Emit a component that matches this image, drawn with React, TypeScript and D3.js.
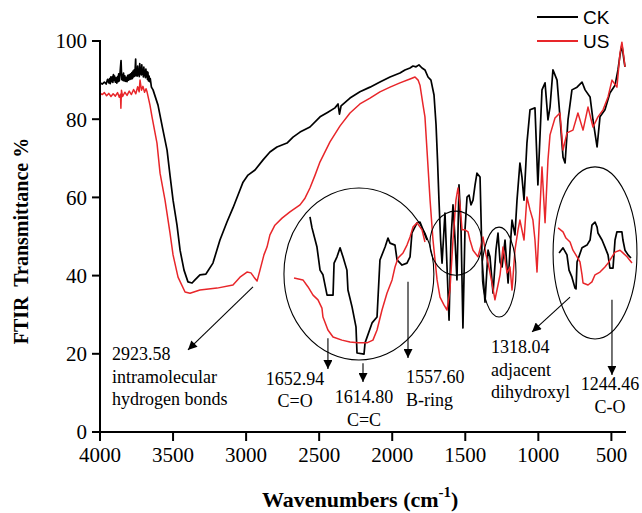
import React from 'react';
import * as d3 from 'd3';

const xTicks = [4000, 3500, 3000, 2500, 2000, 1500, 1000, 500];
const yTicks = [0, 20, 40, 60, 80, 100];
const seriesNames = ['CK', 'US'];
const seriesColors = ['#000000', '#e8262a'];

// [wavenumber, transmittance]
const ckSpectrum: [number, number][] = [
  [4000, 89.3], [3985, 89.0], [3970, 89.5], [3958, 89.0], [3948, 90.2], [3940, 89.3], [3934, 90.4], [3930, 89.1],
  [3926, 90.8], [3922, 89.6], [3916, 90.9], [3912, 89.4], [3908, 91.4], [3905, 89.9], [3900, 91.0], [3895, 89.5],
  [3890, 90.6], [3885, 89.2], [3880, 90.9], [3876, 89.6], [3872, 91.6], [3868, 89.8], [3864, 91.2], [3860, 93.2],
  [3856, 95.0], [3851, 90.1], [3847, 91.3], [3843, 89.9], [3839, 91.8], [3835, 89.8], [3830, 91.1], [3825, 89.7],
  [3820, 90.7], [3815, 89.6], [3810, 91.2], [3805, 90.0], [3800, 91.4], [3795, 90.2], [3790, 91.6], [3786, 90.3],
  [3782, 91.9], [3778, 90.4], [3774, 92.3], [3770, 90.8], [3766, 92.6], [3762, 91.0], [3759, 93.1], [3756, 95.4],
  [3753, 91.2], [3750, 92.6], [3746, 91.0], [3742, 93.6], [3738, 91.3], [3735, 92.4], [3731, 90.9], [3728, 94.2],
  [3724, 91.6], [3721, 93.0], [3717, 91.3], [3714, 93.9], [3710, 91.5], [3707, 92.6], [3703, 90.8], [3700, 93.3],
  [3696, 91.2], [3693, 92.4], [3689, 90.6], [3686, 92.8], [3682, 90.9], [3679, 92.2], [3675, 90.2], [3672, 92.0],
  [3668, 89.8], [3664, 91.0], [3660, 89.6], [3656, 90.4], [3648, 88.2], [3637, 87.5], [3603, 83.6], [3569, 77.2],
  [3541, 72.1], [3521, 65.7], [3500, 59.3], [3473, 52.9], [3452, 46.5], [3425, 41.4], [3398, 38.4], [3370, 38.1],
  [3350, 38.9], [3316, 40.2], [3275, 40.4], [3227, 43.2], [3179, 49.1], [3131, 53.7], [3090, 57.3], [3042, 61.9],
  [3021, 63.9], [2987, 65.7], [2939, 67.0], [2884, 69.6], [2837, 71.6], [2789, 72.9], [2720, 73.9], [2679, 75.4],
  [2631, 76.7], [2563, 78.0], [2494, 80.6], [2440, 81.8], [2392, 82.9], [2371, 83.9], [2361, 81.3], [2350, 83.4],
  [2289, 85.4], [2221, 87.0], [2152, 88.2], [2084, 89.5], [2015, 90.8], [1947, 91.8], [1913, 92.6], [1878, 93.1],
  [1858, 93.6], [1837, 93.4], [1817, 93.9], [1796, 93.1], [1776, 92.6], [1755, 90.8], [1735, 90.0], [1714, 86.2],
  [1700, 78.5], [1690, 69.6], [1680, 59.3], [1669, 49.1], [1659, 43.2], [1639, 56.0], [1611, 28.6], [1598, 49.1],
  [1584, 58.1], [1570, 49.1], [1557, 38.9], [1543, 63.2], [1529, 51.7], [1516, 26.6], [1502, 51.7], [1488, 60.1],
  [1474, 60.6], [1461, 58.1], [1447, 59.3], [1433, 63.2], [1420, 66.2], [1399, 65.2], [1385, 44.0], [1365, 33.2],
  [1344, 46.5], [1331, 44.8], [1310, 35.5], [1290, 46.5], [1276, 50.9], [1262, 43.5], [1248, 42.2], [1228, 49.1],
  [1207, 38.1], [1194, 46.5], [1180, 54.2], [1160, 50.4], [1146, 59.3], [1126, 68.8], [1112, 65.2], [1098, 59.3],
  [1078, 73.9], [1057, 82.4], [1023, 82.9], [1003, 63.2], [975, 87.5], [954, 89.3], [934, 79.8], [920, 83.1],
  [900, 92.6], [872, 90.0], [852, 80.6], [831, 70.3], [817, 68.8], [797, 79.8], [770, 87.5], [735, 88.2],
  [701, 89.5], [680, 87.5], [646, 85.7], [626, 79.8], [598, 72.9], [578, 80.6], [544, 82.4], [510, 86.7],
  [475, 88.7], [455, 92.6], [441, 96.4], [428, 99.0], [414, 95.1], [407, 93.4],
];

const usSpectrum: [number, number][] = [
  [4000, 86.7], [3985, 86.3], [3970, 86.8], [3955, 86.0], [3940, 86.6], [3925, 85.8], [3910, 86.5], [3895, 85.9],
  [3880, 86.8], [3868, 85.6], [3860, 86.4], [3857, 82.8], [3853, 87.4], [3845, 85.8], [3830, 86.9], [3815, 86.1],
  [3800, 87.2], [3785, 86.3], [3770, 87.6], [3755, 86.5], [3742, 88.3], [3732, 87.0], [3726, 90.0], [3716, 87.4],
  [3706, 88.4], [3695, 86.9], [3685, 87.8], [3678, 87.0], [3658, 83.6], [3644, 80.6], [3610, 73.9], [3589, 66.2],
  [3555, 59.3], [3521, 50.9], [3500, 45.3], [3466, 39.6], [3418, 35.8], [3384, 35.5], [3316, 36.3], [3199, 36.8],
  [3090, 37.6], [3042, 39.6], [2994, 40.9], [2967, 40.7], [2946, 39.6], [2925, 38.6], [2905, 41.4], [2878, 45.3],
  [2857, 47.3], [2837, 50.4], [2803, 52.9], [2754, 54.7], [2700, 56.3], [2631, 58.1], [2597, 59.8], [2563, 62.4],
  [2528, 65.7], [2494, 69.1], [2426, 74.2], [2357, 78.3], [2289, 81.6], [2221, 83.9], [2152, 85.4], [2084, 87.0],
  [2015, 88.2], [1947, 89.3], [1878, 90.3], [1844, 90.8], [1823, 90.0], [1810, 88.7], [1789, 83.6], [1776, 80.6],
  [1762, 72.1], [1741, 59.3], [1721, 49.1], [1693, 38.9], [1673, 34.5], [1646, 32.5], [1625, 31.2], [1605, 36.3],
  [1584, 49.1], [1564, 59.3], [1550, 62.4], [1536, 58.1], [1522, 51.7], [1502, 51.7], [1481, 51.2], [1468, 49.1],
  [1447, 46.5], [1413, 44.8], [1392, 47.8], [1379, 49.9], [1358, 45.3], [1344, 43.2], [1317, 38.1], [1297, 33.8],
  [1276, 37.6], [1262, 40.2], [1242, 47.3], [1214, 40.7], [1194, 42.2], [1180, 36.3], [1160, 46.5], [1139, 51.7],
  [1126, 54.2], [1098, 49.1], [1078, 60.1], [1057, 56.8], [1037, 54.2], [1023, 49.1], [1009, 40.9], [996, 51.7],
  [975, 67.8], [954, 53.5], [934, 69.6], [920, 76.0], [886, 80.3], [852, 81.6], [831, 72.1], [804, 76.5],
  [763, 77.2], [729, 81.6], [694, 77.2], [660, 83.1], [626, 78.0], [592, 80.6], [557, 82.4], [523, 85.7],
  [496, 90.0], [462, 88.2], [441, 96.9], [428, 99.7], [414, 95.7], [407, 93.4],
];

// magnified insets drawn inside the highlight circles
const ckInsetLeft: [number, number][] = [
  [2563, 55.0], [2549, 52.2], [2515, 47.3], [2494, 41.4], [2474, 40.2], [2446, 35.0], [2405, 35.0], [2398, 43.2],
  [2378, 44.8], [2357, 47.1], [2337, 44.8], [2310, 41.4], [2303, 36.3], [2275, 32.0], [2248, 26.9], [2241, 20.2],
  [2193, 19.9], [2186, 22.8], [2138, 27.9], [2104, 29.4], [2084, 44.0], [2049, 47.3], [2029, 49.6], [2015, 48.3],
  [1981, 47.8], [1967, 44.0], [1933, 42.7], [1899, 43.2], [1878, 44.8], [1865, 50.9], [1830, 53.5], [1810, 53.7],
  [1789, 51.7], [1762, 49.1],
];
const usInsetLeft: [number, number][] = [
  [2672, 39.4], [2611, 38.9], [2576, 37.1], [2542, 35.0], [2508, 33.8], [2481, 31.7], [2474, 29.4], [2440, 26.1],
  [2405, 24.3], [2344, 23.5], [2289, 23.0], [2234, 22.8], [2173, 22.8], [2132, 23.5], [2104, 26.1], [2070, 31.2],
  [2036, 35.5], [2001, 38.9], [1981, 42.2], [1960, 44.5], [1926, 45.8], [1899, 47.8], [1878, 49.9], [1858, 52.4],
  [1830, 53.5], [1796, 51.7], [1776, 48.6],
];
const ckInsetRight: [number, number][] = [
  [858, 45.8], [831, 47.1], [804, 45.3], [790, 41.4], [770, 39.6], [749, 36.8], [742, 36.6], [735, 43.5],
  [701, 47.1], [667, 47.8], [646, 49.1], [633, 52.9], [612, 53.7], [598, 52.4], [592, 50.9], [564, 49.1],
  [544, 47.3], [523, 45.3], [510, 41.9], [489, 41.9], [475, 49.1], [462, 51.2], [428, 51.2], [421, 49.1],
  [407, 46.5], [386, 45.3], [366, 44.5],
];
const usInsetRight: [number, number][] = [
  [865, 52.2], [831, 51.2], [811, 49.6], [783, 48.6], [763, 46.5], [735, 44.8], [715, 43.5], [701, 40.2],
  [694, 38.1], [660, 37.6], [633, 38.4], [612, 40.2], [578, 40.9], [544, 42.2], [523, 43.2], [496, 44.8],
  [475, 46.0], [441, 46.5], [421, 45.8], [393, 44.8], [359, 43.2],
];

// highlight ellipses: centre wavenumber, centre T, half-width (cm-1), half-height (%)
const ellipseCentersW = [2228, 1564, 1269, 612];
const ellipseCentersT = [40.4, 48.3, 40.9, 45.8];
const ellipseHalfW = [513, 178, 116, 287];
const ellipseHalfT = [22.0, 8.2, 11.5, 22.0];

// arrows: from (w,T) to (w,T)
const arrowFrom: [number, number][] = [[2953, 37.1], [2440, 24.0], [2200, 17.6], [1892, 38.4], [783, 34.5], [496, 33.8]];
const arrowTo: [number, number][] = [[3398, 21.0], [2440, 16.1], [2200, 12.8], [1892, 18.9], [1043, 25.6], [496, 14.6]];

// annotation labels
const labelLines = [
  ['2923.58', 'intramolecular', 'hydrogen bonds'],
  ['1652.94', 'C=O'],
  ['1614.80', 'C=C'],
  ['1557.60', 'B-ring'],
  ['1318.04', 'adjacent', 'dihydroxyl'],
  ['1244.46', 'C-O'],
];
const labelW = [3918, 2665, 2193, 1906, 1324, 510];
const labelT = [18.4, 12.1, 7.4, 12.5, 20.2, 10.7];
const labelAnchor = ['start', 'middle', 'middle', 'start', 'start', 'middle'];

const W = 642;
const H = 513;

export default function App() {
  const x = d3.scaleLinear().domain([4000, 400]).range([100, 626]);
  const y = d3.scaleLinear().domain([0, 100]).range([432, 41]);
  const line = d3
    .line<[number, number]>()
    .x((d) => x(d[0]))
    .y((d) => y(d[1]));

  const serif = "'Liberation Serif', 'Times New Roman', serif";
  const sans = "'Liberation Sans', Arial, sans-serif";
  const lineGap = 22.5;

  return (
    <svg
      width={W}
      height={H}
      style={{ position: 'absolute', left: 0, top: 0, background: '#fff' }}
      xmlns="http://www.w3.org/2000/svg"
    >
      <defs>
        <marker
          id="arrowHead"
          viewBox="0 0 10 10"
          refX="10"
          refY="5"
          markerWidth="11"
          markerHeight="9"
          markerUnits="userSpaceOnUse"
          orient="auto"
        >
          <path d="M0,0 L10,5 L0,10 Z" fill="#000" />
        </marker>
      </defs>
      <rect x={0} y={0} width={W} height={H} fill="#fff" />

      {/* spectra */}
      <path d={line(ckSpectrum) || ''} fill="none" stroke={seriesColors[0]} strokeWidth={1.7} strokeLinejoin="round" />
      <path d={line(usSpectrum) || ''} fill="none" stroke={seriesColors[1]} strokeWidth={1.5} strokeLinejoin="round" />

      {/* highlight ellipses */}
      {ellipseCentersW.map((cw, i) => (
        <ellipse
          key={'e' + i}
          cx={x(cw)}
          cy={y(ellipseCentersT[i])}
          rx={Math.abs(x(cw + ellipseHalfW[i]) - x(cw))}
          ry={Math.abs(y(ellipseCentersT[i] + ellipseHalfT[i]) - y(ellipseCentersT[i]))}
          fill="none"
          stroke="#000"
          strokeWidth={1.1}
        />
      ))}

      {/* insets */}
      <path d={line(ckInsetLeft) || ''} fill="none" stroke={seriesColors[0]} strokeWidth={1.7} strokeLinejoin="round" />
      <path d={line(usInsetLeft) || ''} fill="none" stroke={seriesColors[1]} strokeWidth={1.5} strokeLinejoin="round" />
      <path d={line(ckInsetRight) || ''} fill="none" stroke={seriesColors[0]} strokeWidth={1.7} strokeLinejoin="round" />
      <path d={line(usInsetRight) || ''} fill="none" stroke={seriesColors[1]} strokeWidth={1.5} strokeLinejoin="round" />

      {/* arrows */}
      {arrowFrom.map((f, i) => (
        <line
          key={'a' + i}
          x1={x(f[0])}
          y1={y(f[1])}
          x2={x(arrowTo[i][0])}
          y2={y(arrowTo[i][1])}
          stroke="#000"
          strokeWidth={1.1}
          markerEnd="url(#arrowHead)"
        />
      ))}

      {/* annotation labels */}
      {labelLines.map((lines, i) => (
        <text
          key={'l' + i}
          x={x(labelW[i])}
          y={y(labelT[i])}
          fontFamily={serif}
          fontSize={18}
          textAnchor={labelAnchor[i] as any}
          fill="#000"
        >
          {lines.map((t, j) => (
            <tspan key={j} x={x(labelW[i])} dy={j === 0 ? 0 : lineGap}>
              {t}
            </tspan>
          ))}
        </text>
      ))}

      {/* axes */}
      <line x1={100} y1={y(0)} x2={x(400)} y2={y(0)} stroke="#000" strokeWidth={2} />
      <line x1={100} y1={y(0) + 1} x2={100} y2={y(100) - 1} stroke="#000" strokeWidth={2} />
      {xTicks.map((t) => (
        <g key={'xt' + t}>
          <line x1={x(t)} x2={x(t)} y1={y(0)} y2={y(0) + 9} stroke="#000" strokeWidth={2} />
          <text x={x(t)} y={462} textAnchor="middle" fontFamily={serif} fontSize={21} fill="#000">
            {t}
          </text>
        </g>
      ))}
      {yTicks.map((t) => (
        <g key={'yt' + t}>
          <line x1={92} x2={100} y1={y(t)} y2={y(t)} stroke="#000" strokeWidth={2} />
          <text x={87} y={y(t)} dy="0.35em" textAnchor="end" fontFamily={serif} fontSize={21} fill="#000">
            {t}
          </text>
        </g>
      ))}

      {/* axis titles */}
      <text
        transform="translate(28,241) rotate(-90)"
        textAnchor="middle"
        fontFamily={serif}
        fontWeight="bold"
        fontSize={20}
        fill="#000"
        style={{ whiteSpace: 'pre' }}
      >
        {'FTIR  Transmittance %'}
      </text>
      <text x={262} y={507} fontFamily={serif} fontWeight="bold" fontSize={22} fill="#000">
        Wavenumbers (cm
        <tspan fontSize={15} dy={-10}>
          -1
        </tspan>
        <tspan dy={10}>)</tspan>
      </text>

      {/* legend */}
      {seriesNames.map((name, i) => (
        <g key={'lg' + name}>
          <line x1={537} x2={578} y1={17 + i * 24} y2={17 + i * 24} stroke={seriesColors[i]} strokeWidth={1.8} />
          <text x={583} y={17 + i * 24} dy="0.36em" fontFamily={sans} fontSize={19} fill="#000">
            {name}
          </text>
        </g>
      ))}
    </svg>
  );
}
